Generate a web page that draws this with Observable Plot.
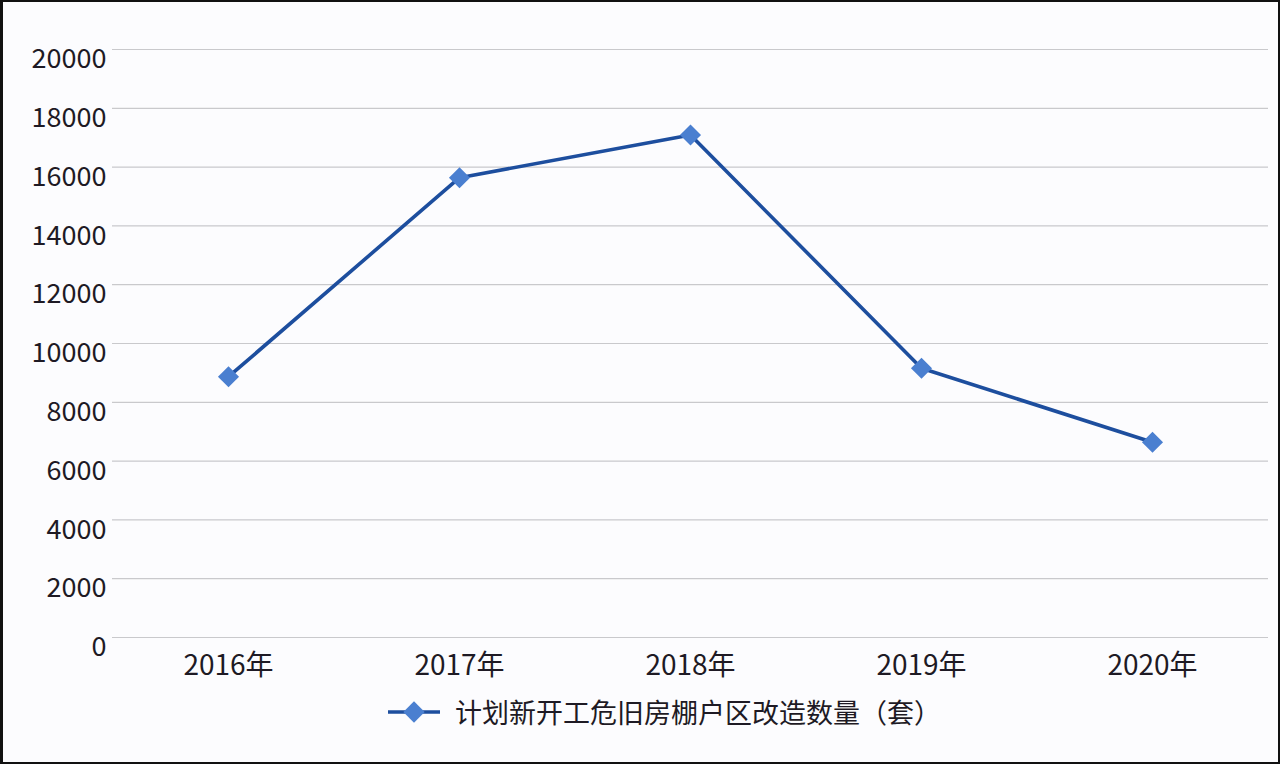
<!DOCTYPE html>
<html>
<head>
<meta charset="utf-8">
<script src="https://cdn.jsdelivr.net/npm/d3@7"></script>
<script src="https://cdn.jsdelivr.net/npm/@observablehq/plot@0.6"></script>
<style>
  html, body { margin: 0; padding: 0; background: #fcfcfe; }
  #wrap { position: relative; width: 1280px; height: 764px; background: #fcfcfe; overflow: hidden;
          font-family: "Noto Sans CJK SC", "Noto Sans", sans-serif; color: #1e1a24; }
  #frame { position: absolute; left: 0; top: 0; width: 1280px; height: 764px; box-sizing: border-box;
           border: 2px solid #111; border-left-width: 3px; pointer-events: none; }
  #chart { position: absolute; left: 0; top: 0; }
  #legend { position: absolute; left: 386px; top: 692px; display: flex; align-items: center; font-size: 27px; white-space: nowrap; }
  #legend svg { margin-right: 13px; }
</style>
</head>
<body>
<div id="wrap">
  <div id="chart"></div>
  <div id="legend"></div>
  <div id="frame"></div>
</div>
<script>
const years = ["2016年", "2017年", "2018年", "2019年", "2020年"];
const values = [8870, 15640, 17090, 9160, 6640];
const yTicks = [0, 2000, 4000, 6000, 8000, 10000, 12000, 14000, 16000, 18000, 20000];
const seriesName = "计划新开工危旧房棚户区改造数量（套）";

const lineColor = "#1d4e9e";
const markColor = "#4a7fd0";

const data = years.map((y, i) => ({year: y, value: values[i]}));

const chart = Plot.plot({
  width: 1280,
  height: 690,
  marginLeft: 112,
  marginRight: 12,
  marginTop: 49,
  marginBottom: 53,
  style: {background: "transparent", fontFamily: "\"Noto Sans CJK SC\", sans-serif", fontSize: "27px", color: "#1e1a24"},
  x: {type: "point", domain: years, padding: 0.5, label: null},
  y: {domain: [0, 20000], label: null},
  marks: [
    Plot.gridY(yTicks, {stroke: "#c9c9cc", strokeOpacity: 1, strokeWidth: 1.2}),
    Plot.axisY(yTicks, {tickSize: 0, tickPadding: 6, tickFormat: d => String(d), fontSize: 27, dy: 10, label: null}),
    Plot.axisX({tickSize: 0, tickPadding: 18, fontSize: 28, label: null}),
    Plot.line(data, {x: "year", y: "value", stroke: lineColor, strokeWidth: 3.6}),
    Plot.dot(data, {x: "year", y: "value", symbol: "diamond2", r: 9.5, fill: markColor, stroke: "none"})
  ]
});
document.getElementById("chart").appendChild(chart);

// legend
const leg = document.getElementById("legend");
const sw = d3.create("svg").attr("width", 56).attr("height", 32);
sw.append("line").attr("x1", 2).attr("x2", 54).attr("y1", 16).attr("y2", 16).attr("stroke", lineColor).attr("stroke-width", 3.6);
sw.append("path").attr("d", d3.symbol(d3.symbolDiamond2, 290)()).attr("transform", "translate(28,16)").attr("fill", markColor);
leg.appendChild(sw.node());
const span = document.createElement("span");
span.textContent = seriesName;
leg.appendChild(span);
</script>
</body>
</html>
